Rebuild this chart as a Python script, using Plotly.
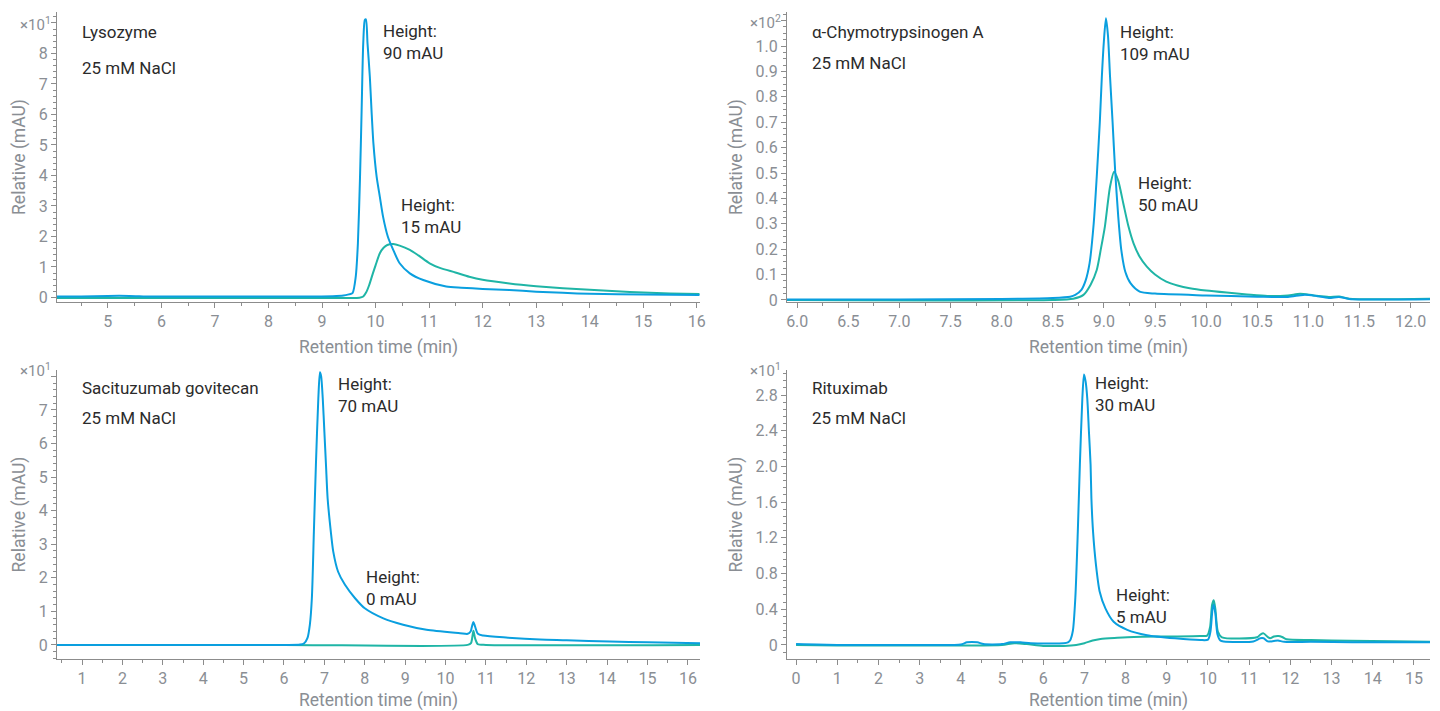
import plotly.graph_objects as go

W, H = 1440, 711

# ---------------- data ----------------
# Panel 1: Lysozyme (y in x10 mAU)
lys_x_blue = [4.05, 4.5, 5.0, 5.4, 5.8, 6.5, 7.5, 8.5, 9.2, 9.4, 9.5, 9.57, 9.63, 9.67, 9.71, 9.74, 9.77, 9.80,
              9.82, 9.85, 9.893, 9.924, 9.96, 10.02, 10.08, 10.14, 10.23, 10.33, 10.45, 10.64, 10.89, 11.32, 11.6,
              12.0, 12.5, 13.0, 13.5, 14.0, 15.0, 16.05]
lys_y_blue = [0.03, 0.03, 0.05, 0.05, 0.03, 0.03, 0.03, 0.03, 0.04, 0.06, 0.1, 0.14, 0.68, 1.77, 3.96, 6.15, 8.33, 9.1,
              9.12, 8.33, 7.24, 6.15, 5.05, 3.96, 3.3, 2.65, 1.99, 1.56, 1.12, 0.79, 0.57, 0.36, 0.32,
              0.28, 0.24, 0.19, 0.15, 0.12, 0.1, 0.08]
lys_x_green = [4.05, 6.0, 8.0, 9.5, 9.7, 9.77, 9.82, 9.88, 9.95, 10.0, 10.08, 10.15, 10.22, 10.33, 10.45, 10.64, 10.8,
               11.01, 11.2, 11.49, 11.75, 12.0, 12.5, 13.0, 13.5, 14.0, 14.5, 15.0, 15.5, 16.05]
lys_y_green = [-0.02, -0.02, -0.02, -0.02, -0.01, 0.03, 0.15, 0.4, 0.79, 1.05, 1.45, 1.63, 1.72, 1.75, 1.7, 1.56, 1.38,
               1.12, 0.97, 0.82, 0.68, 0.58, 0.46, 0.37, 0.3, 0.25, 0.2, 0.16, 0.13, 0.11]

# Panel 2: alpha-Chymotrypsinogen A (y in x100 mAU)
chy_x_blue = [5.9, 7.0, 8.0, 8.5, 8.67, 8.72, 8.78, 8.82, 8.86, 8.9, 8.93, 8.96, 8.98, 9.0, 9.02, 9.04, 9.06, 9.085,
              9.11, 9.14, 9.17, 9.21, 9.26, 9.35, 9.5, 10.0, 10.5, 10.8, 10.95, 11.05, 11.2, 11.3, 11.4, 12.19]
chy_y_blue = [0.002, 0.002, 0.004, 0.008, 0.013, 0.02, 0.04, 0.075, 0.145, 0.3, 0.485, 0.7, 0.88, 1.02, 1.109, 1.04, 0.88,
              0.7, 0.51, 0.33, 0.197, 0.11, 0.066, 0.033, 0.025, 0.018, 0.013, 0.012, 0.02, 0.018, 0.008, 0.012, 0.004, 0.003]
chy_x_green = [5.9, 8.5, 8.7, 8.8, 8.87, 8.93, 8.97, 9.01, 9.06, 9.1, 9.14, 9.19, 9.24, 9.29, 9.35, 9.42, 9.5, 9.61,
               9.72, 9.84, 10.0, 10.2, 10.4, 10.6, 10.8, 10.92, 11.05, 11.2, 11.3, 11.4, 12.19]
chy_y_green = [0.0, 0.0, 0.005, 0.02, 0.06, 0.118, 0.2, 0.29, 0.446, 0.505, 0.47, 0.38, 0.29, 0.223, 0.17, 0.131, 0.1,
               0.072, 0.057, 0.046, 0.037, 0.029, 0.022, 0.016, 0.018, 0.024, 0.018, 0.012, 0.014, 0.005, 0.005]

# Panel 3: Sacituzumab govitecan (y in x10 mAU)
sac_x_blue = [0.38, 2.0, 4.0, 6.0, 6.4, 6.5, 6.58, 6.64, 6.69, 6.74, 6.79, 6.85, 6.89, 6.92, 6.96, 7.0, 7.04, 7.08,
              7.16, 7.22, 7.34, 7.51, 7.76, 8.0, 8.46, 8.95, 9.53, 10.36, 10.55, 10.62, 10.66, 10.69, 10.73, 10.8,
              10.93, 11.5, 12.34, 13.0, 14.07, 15.0, 16.3]
sac_y_blue = [0.0, 0.0, 0.0, 0.0, 0.01, 0.05, 0.2, 0.6, 1.39, 3.37, 5.36, 7.34, 8.12, 8.0, 7.34, 6.35, 5.36, 4.37,
              3.37, 2.78, 2.18, 1.79, 1.39, 1.09, 0.79, 0.6, 0.45, 0.35, 0.33, 0.4, 0.58, 0.68, 0.55, 0.33,
              0.28, 0.22, 0.16, 0.14, 0.1, 0.08, 0.05]
sac_x_green = [0.38, 6.0, 10.55, 10.63, 10.69, 10.73, 10.8, 11.0, 16.3]
sac_y_green = [0.0, 0.0, 0.0, 0.05, 0.42, 0.2, 0.02, 0.0, 0.0]

# Panel 4: Rituximab (y in x10 mAU)
rit_x_blue = [0.0, 1.0, 2.0, 3.0, 4.0, 4.15, 4.4, 4.55, 5.0, 5.2, 5.45, 5.7, 6.5, 6.6, 6.65, 6.72, 6.78, 6.84, 6.89,
              6.95, 6.99, 7.03, 7.07, 7.11, 7.15, 7.17, 7.21, 7.28, 7.37, 7.51, 7.71, 8.04, 8.52, 9.2, 9.81, 10.0,
              10.06, 10.11, 10.14, 10.18, 10.23, 10.3, 10.38, 11.1, 11.27, 11.35, 11.45, 11.6, 11.7, 11.85, 12.5,
              13.5, 15.39]
rit_y_blue = [0.01, 0.0, 0.0, 0.0, 0.005, 0.03, 0.03, 0.01, 0.01, 0.03, 0.03, 0.02, 0.02, 0.03, 0.05, 0.16, 0.53, 1.27,
              2.02, 2.76, 3.03, 2.95, 2.76, 2.39, 2.02, 1.64, 1.27, 0.9, 0.6, 0.41, 0.26, 0.17, 0.11, 0.075, 0.056, 0.06,
              0.15, 0.4, 0.45, 0.35, 0.12, 0.05, 0.04, 0.04, 0.075, 0.075, 0.04, 0.045, 0.05, 0.035, 0.035,
              0.03, 0.03]
rit_x_green = [0.0, 1.0, 4.0, 5.0, 5.3, 5.6, 6.0, 6.5, 6.8, 7.0, 7.2, 7.39, 7.8, 8.2, 9.0, 9.81, 9.98, 10.05, 10.1, 10.14,
               10.18, 10.24, 10.34, 11.19, 11.28, 11.35, 11.45, 11.51, 11.6, 11.71, 11.8, 11.91, 12.5, 13.45, 14.5, 15.39]
rit_y_green = [0.0, -0.005, -0.005, 0.0, 0.02, 0.01, -0.01, -0.01, 0.0, 0.02, 0.05, 0.067, 0.08, 0.09, 0.095, 0.1, 0.105,
               0.2, 0.45, 0.5, 0.4, 0.15, 0.086, 0.086, 0.12, 0.13, 0.09, 0.075, 0.095, 0.1, 0.09, 0.064, 0.055, 0.048,
               0.042, 0.037]

# tick labels (the top tick's label is replaced by the multiplier)
lys_y_ticks = [0, 1, 2, 3, 4, 5, 6, 7, 8, 9]
lys_y_ticktext = ["0", "1", "2", "3", "4", "5", "6", "7", "8", ""]
chy_y_ticks = [0, 0.1, 0.2, 0.3, 0.4, 0.5, 0.6, 0.7, 0.8, 0.9, 1.0, 1.1]
chy_y_ticktext = ["0", "0.1", "0.2", "0.3", "0.4", "0.5", "0.6", "0.7", "0.8", "0.9", "1.0", ""]
sac_y_ticks = [0, 1, 2, 3, 4, 5, 6, 7, 8]
sac_y_ticktext = ["0", "1", "2", "3", "4", "5", "6", "7", ""]
rit_y_ticks = [0, 0.4, 0.8, 1.2, 1.6, 2.0, 2.4, 2.8]
rit_y_ticktext = ["0", "0.4", "0.8", "1.2", "1.6", "2.0", "2.4", "2.8"]

# ---------------- styling ----------------
BLUE = "#0a9fdf"
TEAL = "#1fb5a6"
GRAY = "#8a8e94"
AXC = "#8c8c8c"
TXT = "#2b2b2b"
FONT = "Roboto"


def px_x(px):
    return px / W


def px_y(py):
    return 1 - py / H


fig = go.Figure()

panels = [
    ("x", "y", lys_x_blue, lys_y_blue, lys_x_green, lys_y_green),
    ("x2", "y2", chy_x_blue, chy_y_blue, chy_x_green, chy_y_green),
    ("x3", "y3", sac_x_blue, sac_y_blue, sac_x_green, sac_y_green),
    ("x4", "y4", rit_x_blue, rit_y_blue, rit_x_green, rit_y_green),
]
for xa, ya, xb, yb, xg, yg in panels:
    fig.add_trace(go.Scatter(x=xg, y=yg, mode="lines", line=dict(color=TEAL, width=2, shape="spline", smoothing=0.7),
                             xaxis=xa, yaxis=ya, showlegend=False, hoverinfo="skip"))
    fig.add_trace(go.Scatter(x=xb, y=yb, mode="lines", line=dict(color=BLUE, width=2, shape="spline", smoothing=0.7),
                             xaxis=xa, yaxis=ya, showlegend=False, hoverinfo="skip"))


def axis_common(**kw):
    d = dict(showline=True, linecolor=AXC, linewidth=1, ticks="outside", ticklen=5, tickwidth=1,
             tickcolor=AXC, tickfont=dict(family=FONT, size=16, color=GRAY), showgrid=False, zeroline=False,
             automargin=False, mirror=False)
    d.update(kw)
    return d


LX = [57 / W, 700 / W]
RX = [787 / W, 1430 / W]
TY = [px_y(302), px_y(12)]
BY = [px_y(659), px_y(370)]

xt = dict(text="Retention time (min)", font=dict(family=FONT, size=17.5, color=GRAY), standoff=10)
yt = dict(text="Relative (mAU)", font=dict(family=FONT, size=17.5, color=GRAY), standoff=8)

minor = lambda d: dict(ticks="outside", ticklen=3, tickcolor=AXC, dtick=d, tick0=0)

fig.update_layout(
    width=W, height=H,
    margin=dict(l=0, r=0, t=0, b=0),
    paper_bgcolor="white", plot_bgcolor="white",
    template="none",
    font=dict(family=FONT, color=TXT),
    xaxis=axis_common(domain=LX, anchor="y", range=[4.05, 16.06], dtick=1, tick0=0, title=xt, minor=minor(0.5)),
    yaxis=axis_common(domain=TY, anchor="x", range=[-0.15, 9.36], tickvals=lys_y_ticks, ticktext=lys_y_ticktext,
                      title=yt, minor=minor(0.2)),
    xaxis2=axis_common(domain=RX, anchor="y2", range=[5.9, 12.19], dtick=0.5, tick0=0, tickformat=".1f", title=xt,
                       minor=minor(0.25)),
    yaxis2=axis_common(domain=TY, anchor="x2", range=[-0.008, 1.134], tickvals=chy_y_ticks, ticktext=chy_y_ticktext,
                       title=yt, minor=minor(0.025)),
    xaxis3=axis_common(domain=LX, anchor="y3", range=[0.38, 16.3], dtick=1, tick0=0, title=xt, minor=minor(0.5)),
    yaxis3=axis_common(domain=BY, anchor="x3", range=[-0.42, 8.19], tickvals=sac_y_ticks, ticktext=sac_y_ticktext,
                       title=yt, minor=minor(0.2)),
    xaxis4=axis_common(domain=RX, anchor="y4", range=[-0.22, 15.39], dtick=1, tick0=0, title=xt, minor=minor(0.5)),
    yaxis4=axis_common(domain=BY, anchor="x4", range=[-0.157, 3.08], tickvals=rit_y_ticks, ticktext=rit_y_ticktext,
                       title=yt, minor=minor(0.08)),
)

annots = []


def add_text(text, px, py, size=17, color=TXT, xanchor="left"):
    annots.append(dict(text=text, x=px_x(px), y=px_y(py), xref="paper", yref="paper", showarrow=False,
                       xanchor=xanchor, yanchor="middle", align="left",
                       font=dict(family=FONT, size=size, color=color)))


# multipliers
add_text("×10<sup>1</sup>", 53, 24, size=15, color=GRAY, xanchor="right")
add_text("×10<sup>2</sup>", 783, 22, size=15, color=GRAY, xanchor="right")
add_text("×10<sup>1</sup>", 53, 370, size=15, color=GRAY, xanchor="right")
add_text("×10<sup>1</sup>", 783, 370, size=15, color=GRAY, xanchor="right")

# sample names
add_text("Lysozyme", 80, 32)
add_text("25 mM NaCl", 80, 68)
add_text("α-Chymotrypsinogen A", 810, 32)
add_text("25 mM NaCl", 810, 63)
add_text("Sacituzumab govitecan", 80, 388)
add_text("25 mM NaCl", 80, 418)
add_text("Rituximab", 810, 388)
add_text("25 mM NaCl", 810, 418)

# peak heights
for txt, px, py in [("Height:<br>90 mAU", 381, 42), ("Height:<br>15 mAU", 399, 216),
                    ("Height:<br>109 mAU", 1118, 43), ("Height:<br>50 mAU", 1136, 194),
                    ("Height:<br>70 mAU", 336, 395), ("Height:<br>0 mAU", 364, 588),
                    ("Height:<br>30 mAU", 1093, 394), ("Height:<br>5 mAU", 1114, 606)]:
    add_text(txt, px, py)

fig.update_layout(annotations=annots)

fig.write_html("out.html")
